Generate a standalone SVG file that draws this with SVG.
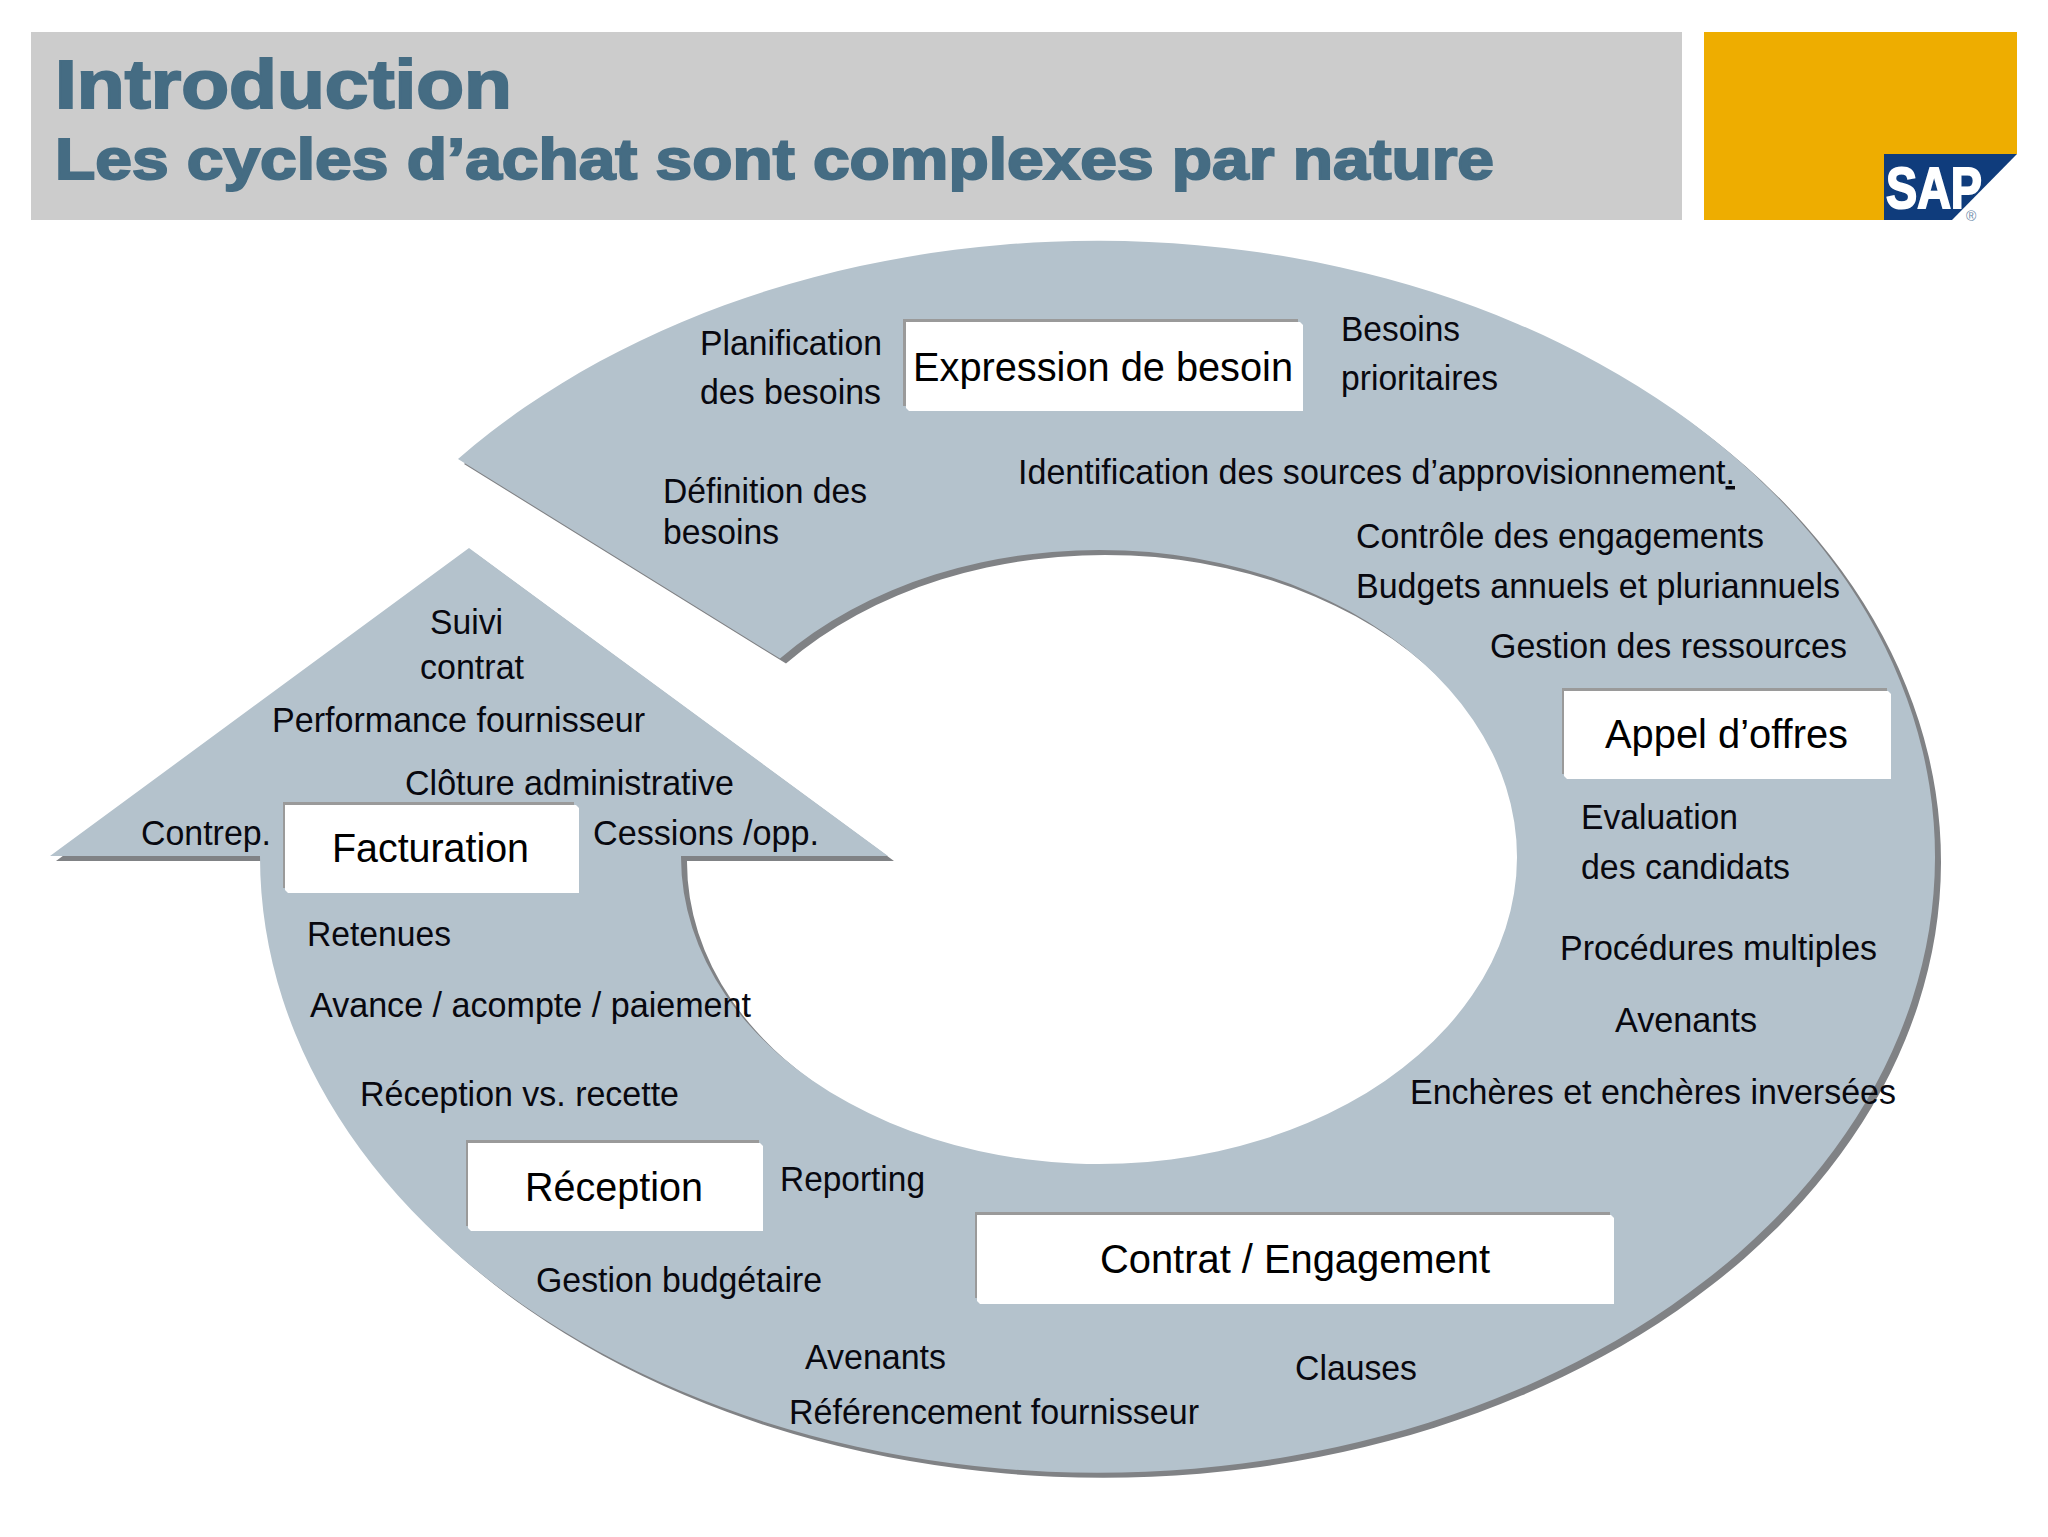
<svg xmlns="http://www.w3.org/2000/svg" width="2048" height="1537" viewBox="0 0 2048 1537">
<style>
text{font-family:"Liberation Sans",Arial,sans-serif;fill:#08080f}
.l{font-size:35px}
.n{font-size:41px;fill:#000}
.t{font-weight:700;fill:#456c83;stroke:#456c83;stroke-width:2px}
.boxg{fill:#9a9a9a}
.boxw{fill:#fff}
</style>
<defs>
<path id="cycle" d="M458,459 A837.5,616 0 1 1 260,857 L260,856 L50,856 L469,548 L888,856 L681,856 L681,857 A418,307 0 1 0 780,658.6 Z"/>
</defs>
<rect width="2048" height="1537" fill="#fff"/>
<g id="header">
<rect x="31" y="32" width="1651" height="188" fill="#cccccc"/>
<text class="t" x="55" y="108" font-size="69" textLength="457" lengthAdjust="spacingAndGlyphs">Introduction</text>
<text class="t" x="55" y="179" font-size="58" textLength="1439" lengthAdjust="spacingAndGlyphs">Les cycles d’achat sont complexes par nature</text>
</g>
<g id="logo">
<polygon points="1704,32 2017,32 2017,154 1884,154 1884,220 1704,220" fill="#eead00"/>
<polygon points="1884,154 2017,154 1952,220 1884,220" fill="#0f3c7c"/>
<text x="1886" y="208" font-size="57" font-weight="700" style="fill:#fff;stroke:#fff;stroke-width:2px" textLength="96" lengthAdjust="spacingAndGlyphs">SAP</text>
<text x="1966" y="221" font-size="14" style="fill:#6f8cab">®</text>
</g>
<g id="connectors">
<use href="#cycle" x="6" y="5" fill="#808285"/>
<use href="#cycle" fill="#b4c2cc"/>
</g>
<g id="labels" transform="translate(-1,1)">
<text class="l" x="701" y="354" textLength="182" lengthAdjust="spacingAndGlyphs">Planification</text>
<text class="l" x="701" y="403" textLength="181" lengthAdjust="spacingAndGlyphs">des besoins</text>
<text class="l" x="664" y="502" textLength="204" lengthAdjust="spacingAndGlyphs">Définition des</text>
<text class="l" x="664" y="543" textLength="116" lengthAdjust="spacingAndGlyphs">besoins</text>
<text class="l" x="1342" y="340" textLength="119" lengthAdjust="spacingAndGlyphs">Besoins</text>
<text class="l" x="1342" y="389" textLength="157" lengthAdjust="spacingAndGlyphs">prioritaires</text>
<text class="l" x="1019" y="483" textLength="717" lengthAdjust="spacingAndGlyphs">Identification des sources d’approvisionnement<tspan text-decoration="underline">.</tspan></text>
<text class="l" x="1357" y="547" textLength="408" lengthAdjust="spacingAndGlyphs">Contrôle des engagements</text>
<text class="l" x="1357" y="597" textLength="484" lengthAdjust="spacingAndGlyphs">Budgets annuels et pluriannuels</text>
<text class="l" x="1491" y="657" textLength="357" lengthAdjust="spacingAndGlyphs">Gestion des ressources</text>
<text class="l" x="1582" y="828" textLength="157" lengthAdjust="spacingAndGlyphs">Evaluation</text>
<text class="l" x="1582" y="878" textLength="209" lengthAdjust="spacingAndGlyphs">des candidats</text>
<text class="l" x="1561" y="959" textLength="317" lengthAdjust="spacingAndGlyphs">Procédures multiples</text>
<text class="l" x="1616" y="1031" textLength="142" lengthAdjust="spacingAndGlyphs">Avenants</text>
<text class="l" x="1411" y="1103" textLength="486" lengthAdjust="spacingAndGlyphs">Enchères et enchères inversées</text>
<text class="l" x="1296" y="1379" textLength="122" lengthAdjust="spacingAndGlyphs">Clauses</text>
<text class="l" x="790" y="1423" textLength="410" lengthAdjust="spacingAndGlyphs">Référencement fournisseur</text>
<text class="l" x="806" y="1368" textLength="141" lengthAdjust="spacingAndGlyphs">Avenants</text>
<text class="l" x="537" y="1291" textLength="286" lengthAdjust="spacingAndGlyphs">Gestion budgétaire</text>
<text class="l" x="781" y="1190" textLength="145" lengthAdjust="spacingAndGlyphs">Reporting</text>
<text class="l" x="361" y="1105" textLength="319" lengthAdjust="spacingAndGlyphs">Réception vs. recette</text>
<text class="l" x="311" y="1016" textLength="441" lengthAdjust="spacingAndGlyphs">Avance / acompte / paiement</text>
<text class="l" x="308" y="945" textLength="144" lengthAdjust="spacingAndGlyphs">Retenues</text>
<text class="l" x="142" y="844" textLength="130" lengthAdjust="spacingAndGlyphs">Contrep.</text>
<text class="l" x="594" y="844" textLength="226" lengthAdjust="spacingAndGlyphs">Cessions /opp.</text>
<text class="l" x="406" y="794" textLength="329" lengthAdjust="spacingAndGlyphs">Clôture administrative</text>
<text class="l" x="273" y="731" textLength="373" lengthAdjust="spacingAndGlyphs">Performance fournisseur</text>
<text class="l" x="431" y="633" textLength="73" lengthAdjust="spacingAndGlyphs">Suivi</text>
<text class="l" x="421" y="678" textLength="104" lengthAdjust="spacingAndGlyphs">contrat</text>
</g>
<g id="node-expression">
<rect class="boxg" x="903" y="319" width="395" height="87"/>
<polygon class="boxw" points="906,322 1300,322 1303,325 1303,411 909,411 906,408"/>
<text class="n" x="913" y="381" textLength="380" lengthAdjust="spacingAndGlyphs">Expression de besoin</text>
</g>
<g id="node-appel">
<rect class="boxg" x="1562" y="688" width="325" height="86"/>
<polygon class="boxw" points="1564,691 1888,691 1891,694 1891,779 1567,779 1564,776"/>
<text class="n" x="1605" y="748" textLength="243" lengthAdjust="spacingAndGlyphs">Appel d’offres</text>
</g>
<g id="node-contrat">
<rect class="boxg" x="975" y="1212" width="635" height="86"/>
<polygon class="boxw" points="977,1215 1611,1215 1614,1218 1614,1304 980,1304 977,1301"/>
<text class="n" x="1100" y="1273" textLength="390" lengthAdjust="spacingAndGlyphs">Contrat / Engagement</text>
</g>
<g id="node-reception">
<rect class="boxg" x="466" y="1140" width="293" height="86"/>
<polygon class="boxw" points="468,1143 760,1143 763,1146 763,1231 471,1231 468,1228"/>
<text class="n" x="525" y="1201" textLength="178" lengthAdjust="spacingAndGlyphs">Réception</text>
</g>
<g id="node-facturation">
<rect class="boxg" x="283" y="802" width="291" height="86"/>
<polygon class="boxw" points="285,805 576,805 579,808 579,893 288,893 285,890"/>
<text class="n" x="332" y="862" textLength="197" lengthAdjust="spacingAndGlyphs">Facturation</text>
</g>
</svg>
